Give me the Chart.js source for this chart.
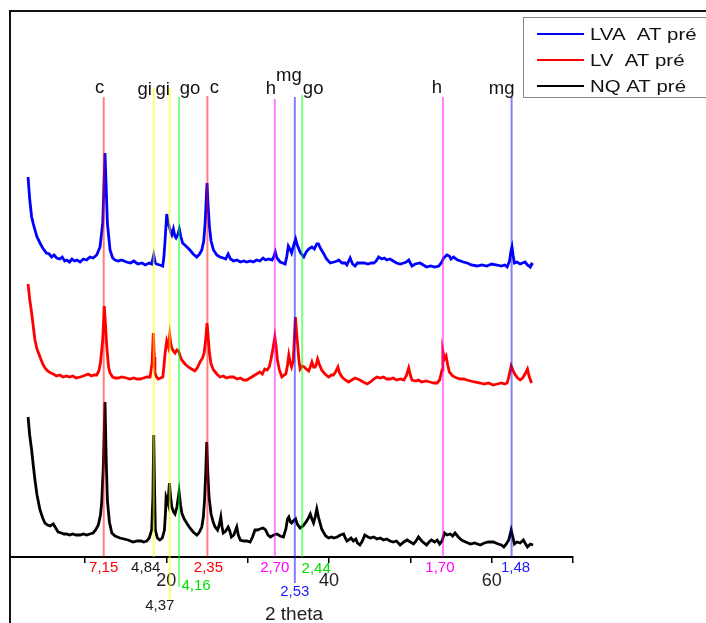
<!DOCTYPE html>
<html>
<head>
<meta charset="utf-8">
<title>DRX - AT pré</title>
<script src="https://cdn.jsdelivr.net/npm/chart.js@4.4.1/dist/chart.umd.min.js"></script>
<style>
  html, body { margin: 0; padding: 0; background: #fff; }
  #wrap { width: 706px; height: 623px; }
</style>
</head>
<body>
<div id="wrap"><canvas id="xrd" width="706" height="623"></canvas></div>
<script>
// Diffractograms (2 theta, offset intensity), one array per sample
const lvaData = [[3.0,380],[3.2,358],[3.44,340],[3.65,333],[3.85,327],[4.1,320],[4.47,314],[4.8,309],[5.25,304],[5.6,303],[5.9,300],[6.2,302],[6.52,299],[6.9,298],[7.2,300],[7.5,296],[7.75,297],[8.1,295],[8.4,298],[8.7,296],[9.0,297],[9.4,295],[9.8,298],[10.2,297],[10.6,300],[11.0,299],[11.44,302],[11.85,310],[12.18,334],[12.46,404],[12.6,370],[12.75,334],[13.08,307],[13.4,299],[13.7,297],[14.1,296],[14.5,297],[15.1,295],[15.6,294],[16.0,296],[16.5,293],[17.0,294],[17.4,292],[17.9,294],[18.2,293],[18.45,302],[18.65,294],[18.8,293],[19.2,292],[19.56,291],[19.7,300],[19.85,317],[20.05,343],[20.2,334],[20.38,330],[20.55,324],[20.67,322],[20.87,328],[21.05,321],[21.2,319],[21.4,322],[21.6,328],[21.8,320],[22.0,314],[22.4,311],[22.9,307],[23.3,303],[23.75,300],[24.1,303],[24.36,307],[24.6,316],[24.77,334],[25.0,374],[25.15,350],[25.3,330],[25.5,316],[25.8,307],[26.2,302],[26.6,300],[27.0,299],[27.3,298],[27.6,303],[27.9,298],[28.25,296],[28.7,297],[29.1,295],[29.5,296],[29.9,295],[30.3,296],[30.7,295],[31.1,297],[31.5,296],[31.9,299],[32.2,297],[32.6,298],[33.0,297],[33.2,300],[33.4,305],[33.6,299],[34.0,295],[34.3,294],[34.6,293],[34.8,300],[35.0,311],[35.2,308],[35.4,304],[35.6,310],[35.9,318],[36.1,312],[36.45,305],[36.7,302],[36.9,300],[37.2,305],[37.5,308],[37.9,310],[38.2,308],[38.5,313],[38.7,313],[39.0,308],[39.3,304],[39.7,298],[40.15,294],[40.6,295],[41.0,296],[41.2,297],[41.6,294],[42.0,294],[42.2,292],[42.6,299],[42.9,293],[43.2,291],[43.5,294],[43.8,294],[44.3,294],[44.8,293],[45.2,294],[45.5,294],[45.8,296],[46.1,300],[46.5,298],[46.8,299],[47.1,297],[47.5,298],[47.9,296],[48.3,294],[48.75,293],[49.2,294],[49.5,295],[49.8,297],[50.2,291],[50.6,293],[51.2,294],[51.6,292],[52.0,290],[52.5,291],[53.0,290],[53.5,291],[53.8,294],[54.1,299],[54.5,302],[54.8,301],[55.0,298],[55.3,300],[55.8,297],[56.2,296],[56.5,295],[57.0,294],[57.5,292],[58.2,291],[58.8,292],[59.4,291],[60.0,293],[60.65,292],[61.2,291],[61.6,292],[61.9,290],[62.2,296],[62.35,305],[62.5,310],[62.65,301],[62.8,294],[63.1,295],[63.5,293],[63.8,294],[64.1,295],[64.4,292],[64.75,290],[64.9,293],[65.1,292]];

const lvData = [[3.0,273],[3.2,258],[3.44,244],[3.65,230],[3.85,217],[4.1,208],[4.47,200],[4.8,193],[5.08,189],[5.4,186],[5.8,184],[6.1,183],[6.5,181],[6.9,182],[7.3,180],[7.7,181],[8.1,180],[8.5,181],[8.9,179],[9.4,180],[9.8,181],[10.1,182],[10.4,183],[10.8,181],[11.1,182],[11.44,182],[11.7,186],[11.9,194],[12.18,217],[12.38,251],[12.52,232],[12.68,210],[12.9,190],[13.08,184],[13.4,180],[13.7,179],[14.1,179],[14.5,180],[15.1,179],[15.5,178],[16.0,179],[16.4,178],[16.77,178],[17.2,179],[17.6,180],[18.0,180],[18.25,194],[18.4,224],[18.52,200],[18.6,184],[18.8,180],[19.0,178],[19.3,179],[19.56,180],[19.7,190],[19.85,204],[20.05,216],[20.26,210],[20.42,222],[20.55,214],[20.67,209],[20.87,206],[21.07,204],[21.3,207],[21.5,206],[21.7,201],[21.9,197],[22.3,193],[22.7,190],[23.1,188],[23.5,186],[23.8,189],[24.15,195],[24.45,199],[24.65,204],[24.85,218],[25.0,234],[25.15,220],[25.3,204],[25.5,193],[25.8,187],[26.2,183],[26.6,180],[27.0,181],[27.4,179],[27.8,180],[28.25,180],[28.7,178],[29.1,179],[29.5,177],[29.9,177],[30.3,179],[30.7,181],[31.1,183],[31.5,185],[31.8,183],[32.1,188],[32.4,187],[32.65,190],[32.85,197],[33.1,208],[33.34,220],[33.5,210],[33.66,197],[33.9,187],[34.2,180],[34.5,182],[34.7,183],[34.9,192],[35.06,202],[35.25,194],[35.4,190],[35.6,196],[35.75,220],[35.88,240],[36.0,226],[36.17,210],[36.3,197],[36.45,188],[36.7,191],[36.95,190],[37.2,188],[37.5,186],[37.7,190],[37.9,195],[38.1,190],[38.3,190],[38.45,193],[38.6,198],[38.8,193],[39.1,187],[39.5,183],[39.95,180],[40.3,182],[40.55,182],[40.8,185],[41.1,190],[41.3,184],[41.6,180],[42.0,177],[42.4,175],[42.8,177],[43.2,179],[43.5,178],[43.8,177],[44.2,175],[44.7,173],[45.1,175],[45.5,178],[45.9,180],[46.3,179],[46.7,180],[47.1,178],[47.5,178],[47.9,179],[48.3,177],[48.8,178],[49.2,177],[49.5,181],[49.8,189],[50.0,182],[50.2,177],[50.7,176],[51.0,177],[51.4,175],[51.9,176],[52.4,175],[52.9,174],[53.3,174],[53.6,177],[53.9,187],[54.0,206],[54.2,198],[54.4,201],[54.6,192],[54.8,185],[55.2,181],[55.7,179],[56.2,178],[56.6,178],[56.95,177],[57.4,176],[57.9,175],[58.6,174],[59.1,173],[59.6,174],[60.2,172],[60.7,173],[61.2,174],[61.6,173],[61.9,174],[62.1,180],[62.4,191],[62.6,187],[62.9,182],[63.2,179],[63.5,177],[63.8,179],[64.1,183],[64.4,188],[64.6,181],[64.9,174]];

const nqData = [[3.0,140],[3.2,122],[3.44,107],[3.65,91],[3.85,77],[4.1,62],[4.47,47],[4.8,39],[5.08,34],[5.4,32],[5.7,31],[6.1,33],[6.4,29],[6.7,25],[7.1,24],[7.4,23],[7.75,23],[8.1,22],[8.5,23],[8.9,22],[9.4,22],[9.8,23],[10.2,22],[10.6,23],[11.0,24],[11.3,27],[11.64,32],[11.9,42],[12.05,54],[12.25,90],[12.46,155],[12.6,100],[12.75,57],[13.0,35],[13.3,24],[13.7,21],[14.3,19],[14.8,18],[15.3,17],[15.9,15],[16.4,16],[16.9,16],[17.2,15],[17.6,16],[17.9,19],[18.2,27],[18.35,60],[18.45,122],[18.55,70],[18.65,27],[18.9,19],[19.2,17],[19.5,19],[19.77,27],[19.9,45],[19.97,60],[20.1,57],[20.2,54],[20.3,65],[20.38,74],[20.5,62],[20.67,50],[20.9,45],[21.07,43],[21.3,50],[21.57,65],[21.75,52],[21.9,44],[22.2,38],[22.5,34],[22.9,29],[23.3,25],[23.75,22],[24.0,24],[24.36,30],[24.55,40],[24.7,57],[24.85,85],[24.97,115],[25.1,85],[25.25,60],[25.5,43],[25.8,34],[26.0,30],[26.3,27],[26.5,32],[26.7,40],[26.85,30],[27.0,24],[27.3,26],[27.6,30],[27.8,26],[28.0,20],[28.3,22],[28.66,30],[28.85,22],[29.1,17],[29.5,16],[29.9,16],[30.3,15],[30.6,20],[30.9,27],[31.2,27],[31.5,28],[31.9,29],[32.2,27],[32.5,22],[32.8,20],[33.2,22],[33.6,23],[34.0,21],[34.4,20],[34.7,28],[34.9,38],[35.06,40],[35.25,35],[35.4,34],[35.6,36],[35.9,38],[36.1,33],[36.45,29],[36.8,31],[37.1,34],[37.4,38],[37.7,43],[37.9,38],[38.1,34],[38.3,40],[38.5,48],[38.7,40],[38.9,34],[39.1,28],[39.3,25],[39.6,21],[39.95,19],[40.3,20],[40.6,19],[41.0,20],[41.4,22],[41.8,23],[42.0,19],[42.2,16],[42.4,17],[42.7,19],[43.0,16],[43.3,18],[43.5,14],[43.8,12],[44.1,16],[44.4,22],[44.8,20],[45.1,19],[45.5,20],[45.9,18],[46.3,19],[46.7,17],[47.1,18],[47.5,16],[47.9,15],[48.3,16],[48.75,12],[49.2,15],[49.6,17],[50.0,15],[50.4,13],[50.7,16],[51.0,20],[51.4,16],[52.0,12],[52.3,15],[52.6,17],[53.0,15],[53.3,17],[53.6,13],[53.9,16],[54.2,24],[54.5,22],[54.9,23],[55.2,21],[55.5,24],[55.9,20],[56.3,17],[56.8,15],[57.4,13],[57.9,14],[58.6,12],[59.1,14],[59.6,15],[60.2,15],[60.8,13],[61.2,12],[61.5,10],[61.8,13],[62.1,17],[62.4,27],[62.6,20],[62.8,13],[63.1,15],[63.5,14],[63.9,17],[64.1,14],[64.4,10],[64.75,13],[65.1,12]];

const seriesLabels = ['LVA  AT pré', 'LV  AT pré', 'NQ AT pré'];

// Reference reflections: 2 theta position, d-spacing label, phase
const refPos = [12.30, 18.45, 20.42, 21.57, 25.05, 33.34, 35.80, 36.70, 54.01, 62.45];
const refD = ['7,15', '4,84', '4,37', '4,16', '2,35', '2,70', '2,53', '2,44', '1,70', '1,48'];
const refPhase = ['c', 'gi', 'gi', 'go', 'c', 'h', 'mg', 'go', 'h', 'mg'];

const xTicks = [10, 20, 30, 40, 50, 60, 70];
const xTickLabels = [20, 40, 60];

// ---- styling ----
const FONT = '"Liberation Sans", Arial, sans-serif';
const seriesColors = ['#0000ff', '#ff0000', '#000000'];
const phaseColor = { c: [255, 0, 0], gi: [255, 255, 0], go: [0, 255, 0], h: [255, 0, 255], mg: [0, 0, 255] };
const dTextColor = ['#ff0000', '#1a1a1a', '#1a1a1a', '#00dd00', '#ff0000', '#ff00ff', '#2020ff', '#00dd00', '#ff00ff', '#2020ff'];
// label offsets in px from the reflection line
const phaseDx = [-4, -9, -7, 11, 7, -4, -6, 11, -6, -10];
const phaseY = [93, 95, 95, 94, 93, 94, 81, 94, 93, 94];
const dDx = [0, -8, -10, 17, 1, 0, 0, 14, -3, 4];
const dDy = [15, 15, 53, 33, 15, 15, 39, 16, 15, 15];
// how far each line runs below the axis (px)
const lineDrop = [0, 0, 43, 30, 0, 0, 26, 0, 0, 0];
const lineTop = [460, 469, 469, 460, 461, 458, 460, 462, 460, 460];

const toPoints = arr => arr.map(p => ({ x: p[0], y: p[1] }));

const traceSets = [lvaData, lvData, nqData].map((d, i) => ({
  label: seriesLabels[i],
  data: toPoints(d),
  borderColor: seriesColors[i],
  borderWidth: 2.8,
  pointRadius: 0,
  tension: 0,
  order: 2
}));

// 1 unit on y = 1 px, so the drop below the axis maps straight to a negative value
const refSets = refPos.map((pos, i) => {
  const c = phaseColor[refPhase[i]];
  const a = refPhase[i] === 'gi' ? 0.55 : 0.5;
  return {
    label: refPhase[i] + ' ' + refD[i],
    data: [{ x: pos, y: -lineDrop[i] }, { x: pos, y: lineTop[i] }],
    borderColor: `rgba(${c[0]},${c[1]},${c[2]},${a})`,
    borderWidth: 2,
    pointRadius: 0,
    clip: false,
    order: 1,
    isRef: true
  };
});

const xrdOverlay = {
  id: 'xrdOverlay',
  afterDraw(chart) {
    const { ctx, chartArea: area, scales: { x } } = chart;
    ctx.save();

    // outer frame (left + top)
    ctx.strokeStyle = '#111';
    ctx.lineWidth = 2;
    ctx.beginPath();
    ctx.moveTo(area.left, chart.height);
    ctx.lineTo(area.left, area.top);
    ctx.lineTo(chart.width, area.top);
    ctx.stroke();

    // phase names above the lines
    ctx.textAlign = 'center';
    ctx.textBaseline = 'alphabetic';
    ctx.font = '18.5px ' + FONT;
    ctx.fillStyle = '#111';
    refPhase.forEach((p, i) => {
      ctx.fillText(p, x.getPixelForValue(refPos[i]) + phaseDx[i], phaseY[i]);
    });

    // d-spacings under the axis
    ctx.font = '15px ' + FONT;
    refD.forEach((d, i) => {
      ctx.fillStyle = dTextColor[i];
      ctx.fillText(d, x.getPixelForValue(refPos[i]) + dDx[i], area.bottom + dDy[i]);
    });

    // axis title
    ctx.font = '19px ' + FONT;
    ctx.fillStyle = '#222';
    ctx.fillText('2 theta', 294, 620);

    // legend box
    ctx.strokeStyle = '#888';
    ctx.lineWidth = 1;
    ctx.strokeRect(523.5, 17.5, 220, 80);
    ctx.textAlign = 'left';
    ctx.textBaseline = 'middle';
    chart.data.datasets.filter(ds => !ds.isRef).forEach((ds, i) => {
      const y = 34 + i * 26;
      ctx.strokeStyle = ds.borderColor;
      ctx.lineWidth = 2;
      ctx.beginPath();
      ctx.moveTo(537, y);
      ctx.lineTo(584, y);
      ctx.stroke();
      // legend text is set a little wide
      ctx.save();
      ctx.translate(590, y + 1);
      ctx.scale(1.2, 1);
      ctx.font = '17px ' + FONT;
      ctx.fillStyle = '#111';
      ctx.fillText(ds.label, 0, 0);
      ctx.restore();
    });

    ctx.restore();
  }
};

new Chart(document.getElementById('xrd'), {
  type: 'line',
  data: { datasets: [...refSets, ...traceSets] },
  options: {
    responsive: false,
    animation: false,
    devicePixelRatio: 1,
    layout: { padding: { left: 10, right: 133, top: 11, bottom: 0 } },
    plugins: { legend: { display: false }, tooltip: { enabled: false } },
    scales: {
      x: {
        type: 'linear',
        min: 0.78,
        max: 70,
        afterBuildTicks: s => { s.ticks = xTicks.map(v => ({ value: v })); },
        afterFit: s => { s.height = 66; },
        ticks: {
          autoSkip: false,
          maxRotation: 0,
          padding: 7,
          color: '#222',
          font: { family: FONT, size: 18 },
          callback: v => xTickLabels.includes(v) ? String(v) : ''
        },
        grid: { drawOnChartArea: false, drawTicks: true, tickLength: 6, color: '#000', lineWidth: 1.5 },
        border: { color: '#000', width: 2 }
      },
      y: { display: false, min: 0, max: 546 }
    }
  },
  plugins: [xrdOverlay]
});
</script>
</body>
</html>
